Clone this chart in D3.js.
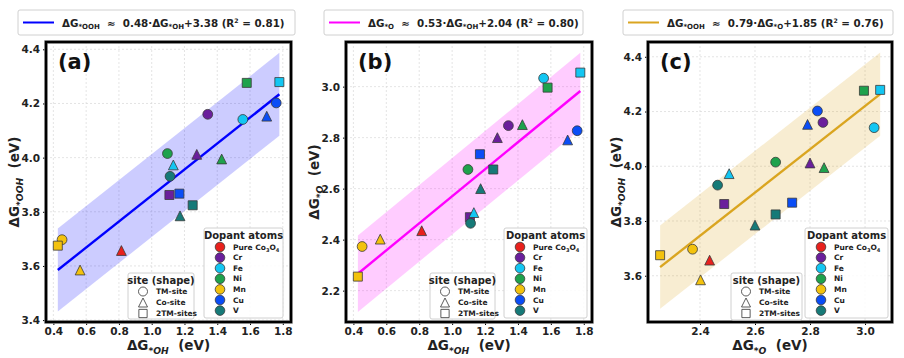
<!DOCTYPE html>
<html>
<head>
<meta charset="utf-8">
<script src="https://cdn.jsdelivr.net/npm/d3@7/dist/d3.min.js"></script>
<style>
html,body{margin:0;padding:0;background:#fff;}
svg{display:block;}
text{font-family:"DejaVu Sans",sans-serif;white-space:pre;}
</style>
</head>
<body>
<svg id="chart" width="904" height="358"></svg>
<script>
// ---------------- DATA ----------------
const dopants = ["Pure Co3O4", "Cr", "Fe", "Ni", "Mn", "Cu", "V"];
const dopantColors = ["#e8211d", "#6a1f9c", "#13c6f2", "#1ea24c", "#f3c20d", "#0a4df6", "#167a78"];
const sites = ["TM-site", "Co-site", "2TM-sites"];

const pointDopant = ["Pure Co3O4","Cr","Cr","Cr","Fe","Fe","Fe","Ni","Ni","Ni","Mn","Mn","Mn","Cu","Cu","Cu","V","V","V"];
const pointSite   = ["Co-site","TM-site","Co-site","2TM-sites","TM-site","Co-site","2TM-sites","TM-site","Co-site","2TM-sites","TM-site","Co-site","2TM-sites","TM-site","Co-site","2TM-sites","TM-site","Co-site","2TM-sites"];
const dG_OH  = [0.815, 1.342, 1.275, 1.108, 1.556, 1.132, 1.779, 1.096, 1.427, 1.580, 0.453, 0.563, 0.427, 1.760, 1.702, 1.169, 1.112, 1.173, 1.250];
const dG_O   = [2.435, 2.847, 2.800, 2.488, 3.033, 2.506, 3.055, 2.675, 2.851, 2.996, 2.373, 2.402, 2.255, 2.827, 2.791, 2.735, 2.464, 2.600, 2.675];
const dG_OOH = [3.657, 4.160, 4.012, 3.862, 4.141, 3.973, 4.279, 4.015, 3.995, 4.276, 3.697, 3.585, 3.675, 4.202, 4.153, 3.867, 3.931, 3.785, 3.824];

const panelLetters = ["(a)", "(b)", "(c)"];
const fitSlopes = [0.48, 0.53, 0.79];
const fitIntercepts = [3.38, 2.04, 1.85];
const fitR2 = ["0.81", "0.80", "0.76"];
const bandHalfWidth = [0.153, 0.15, 0.152];
const xTicksAB = [0.4, 0.6, 0.8, 1.0, 1.2, 1.4, 1.6, 1.8];
const xTicksC = [2.4, 2.6, 2.8, 3.0];
const yTicksA = [3.4, 3.6, 3.8, 4.0, 4.2, 4.4];
const yTicksB = [2.2, 2.4, 2.6, 2.8, 3.0];
const yTicksC = [3.6, 3.8, 4.0, 4.2, 4.4];

// ---------------- LAYOUT ----------------
const NB = "\u00a0";
const panels = [
  {x: dG_OH, y: dG_OOH, xSub: "*OH", ySub: "*OOH", xDom: [0.355, 1.85], yDom: [3.393, 4.427], xTicks: xTicksAB, yTicks: yTicksA,
   rect: [46, 42, 291, 322], color: "#0000ff", bandColor: "#0000ff",
   leg: {x0: 18, x1: 295}, dop: {x0: 204, y0: 228, x1: 283, y1: 318}, site: {x0: 128, y0: 273, x1: 194, y1: 319}, ylabX: 19,
   eq: [["ΔG",0],["*OOH",1],[NB+NB+"≈"+NB+NB+"0.48·ΔG",0],["*OH",1],["+3.38 (R",0],["2",2],[" = 0.81)",0]]},
  {x: dG_OH, y: dG_O, xSub: "*OH", ySub: "*O", xDom: [0.355, 1.85], yDom: [2.077, 3.175], xTicks: xTicksAB, yTicks: yTicksB,
   rect: [346, 42, 592, 322], color: "#ff00ff", bandColor: "#ff00ff",
   leg: {x0: 324, x1: 583}, dop: {x0: 504, y0: 228, x1: 587, y1: 318}, site: {x0: 430, y0: 273, x1: 495, y1: 319}, ylabX: 319,
   eq: [["ΔG",0],["*O",1],[NB+NB+"≈"+NB+NB+"0.53·ΔG",0],["*OH",1],["+2.04 (R",0],["2",2],[" = 0.80)",0]]},
  {x: dG_O, y: dG_OOH, xSub: "*O", ySub: "*OOH", xDom: [2.211, 3.098], yDom: [3.431, 4.454], xTicks: xTicksC, yTicks: yTicksC,
   rect: [648, 42, 892, 322], color: "#daa520", bandColor: "#daa520",
   leg: {x0: 623, x1: 893}, dop: {x0: 805, y0: 228, x1: 888, y1: 318}, site: {x0: 731, y0: 273, x1: 802, y1: 320}, ylabX: 621,
   eq: [["ΔG",0],["*OOH",1],[NB+NB+"≈"+NB+NB+"0.79·ΔG",0],["*O",1],["+1.85 (R",0],["2",2],[" = 0.76)",0]]}
];

const svg = d3.select("#chart");
const colorScale = d3.scaleOrdinal().domain(dopants).range(dopantColors);

function markerPath(site, s) {
  const h = s / 2;
  if (site === "TM-site") {
    return d3.arc()({innerRadius: 0, outerRadius: h, startAngle: 0, endAngle: 2 * Math.PI});
  } else if (site === "Co-site") {
    return `M0,${-h}L${h},${h}L${-h},${h}Z`;
  } else {
    const q = h * 0.92;
    return `M${-q},${-q}L${q},${-q}L${q},${q}L${-q},${q}Z`;
  }
}

function mathText(sel, parts, size, italicSub) {
  let shift = 0;
  parts.forEach(([t, kind]) => {
    const ts = sel.append("tspan").text(t);
    if (kind === 1) {
      ts.attr("font-size", size * 0.68).attr("dy", 0.28 * size - shift);
      if (italicSub) ts.attr("font-style", "italic");
      shift = 0.28 * size;
    } else if (kind === 2) {
      ts.attr("font-size", size * 0.6).attr("dy", -0.38 * size - shift);
      shift = -0.38 * size;
    } else {
      ts.attr("font-size", size).attr("dy", -shift);
      shift = 0;
    }
  });
}

panels.forEach((p, pi) => {
  const [L, T, R, B] = p.rect;
  const xs = d3.scaleLinear().domain(p.xDom).range([L, R]);
  const ys = d3.scaleLinear().domain(p.yDom).range([B, T]);
  const g = svg.append("g");

  // grid
  g.append("g").selectAll("line").data(p.xTicks).join("line")
    .attr("x1", d => xs(d)).attr("x2", d => xs(d)).attr("y1", T).attr("y2", B)
    .attr("stroke", "#d9d9d9").attr("stroke-width", 0.7).attr("stroke-dasharray", "2,2");
  g.append("g").selectAll("line").data(p.yTicks).join("line")
    .attr("y1", d => ys(d)).attr("y2", d => ys(d)).attr("x1", L).attr("x2", R)
    .attr("stroke", "#d9d9d9").attr("stroke-width", 0.7).attr("stroke-dasharray", "2,2");

  // axes (tick labels via d3 axes)
  const xAxis = d3.axisBottom(xs).tickValues(p.xTicks).tickFormat(d3.format(".1f")).tickSize(3).tickPadding(3);
  const yAxis = d3.axisLeft(ys).tickValues(p.yTicks).tickFormat(d3.format(".1f")).tickSize(3).tickPadding(3);
  const gx = g.append("g").attr("transform", `translate(0,${B})`).call(xAxis);
  const gy = g.append("g").attr("transform", `translate(${L},0)`).call(yAxis);
  [gx, gy].forEach(a => {
    a.select(".domain").remove();
    a.selectAll(".tick line").attr("stroke", "#000").attr("stroke-width", 1);
    a.selectAll(".tick text").attr("font-family", "DejaVu Sans").attr("font-weight", "bold")
      .attr("font-size", 10.5).attr("fill", "#222");
  });

  // confidence band + fit line
  const xmin = d3.min(p.x), xmax = d3.max(p.x);
  const m = fitSlopes[pi], c = fitIntercepts[pi], hw = bandHalfWidth[pi];
  const bandPts = [xmin, xmax];
  const area = d3.area().x(d => xs(d)).y0(d => ys(m * d + c - hw)).y1(d => ys(m * d + c + hw));
  g.append("path").datum(bandPts).attr("d", area).attr("fill", p.bandColor).attr("fill-opacity", 0.2);
  g.append("path").datum(bandPts)
    .attr("d", d3.line().x(d => xs(d)).y(d => ys(m * d + c)))
    .attr("stroke", p.color).attr("stroke-width", 2.4).attr("fill", "none");

  // points
  g.append("g").selectAll("path").data(d3.range(p.x.length)).join("path")
    .attr("transform", i => `translate(${xs(p.x[i])},${ys(p.y[i])})`)
    .attr("d", i => markerPath(pointSite[i], 9.8))
    .attr("fill", i => colorScale(pointDopant[i]))
    .attr("stroke", "#3a3a3a").attr("stroke-width", 0.8);

  // frame
  g.append("rect").attr("x", L).attr("y", T).attr("width", R - L).attr("height", B - T)
    .attr("fill", "none").attr("stroke", "#9a9a9a").attr("stroke-width", 3.6);
  g.append("rect").attr("x", L).attr("y", T).attr("width", R - L).attr("height", B - T)
    .attr("fill", "none").attr("stroke", "#000").attr("stroke-width", 2.4);

  // panel letter
  g.append("text").attr("x", L + 12).attr("y", T + 27).text(panelLetters[pi])
    .attr("font-family", "Liberation Sans, Arial, sans-serif").attr("font-weight", "bold").attr("font-size", 21).attr("fill", "#111");

  // axis labels
  const xl = g.append("text").attr("x", (L + R) / 2).attr("y", 350).attr("text-anchor", "middle")
    .attr("font-weight", "bold").attr("fill", "#222");
  mathText(xl, [["ΔG", 0], [p.xSub, 1], [NB + NB + "(eV)", 0]], 13.5, true);
  const yl = g.append("text").attr("transform", `translate(${p.ylabX},${(T + B) / 2}) rotate(-90)`).attr("text-anchor", "middle")
    .attr("font-weight", "bold").attr("fill", "#222");
  mathText(yl, [["ΔG", 0], [p.ySub, 1], [NB + NB + "(eV)", 0]], 13.5, true);

  // top legend
  const lg = g.append("g");
  lg.append("rect").attr("x", p.leg.x0).attr("y", 10).attr("width", p.leg.x1 - p.leg.x0).attr("height", 25)
    .attr("rx", 2).attr("fill", "#fff").attr("stroke", "#d0d0d0").attr("stroke-width", 1);
  lg.append("line").attr("x1", p.leg.x0 + 5).attr("x2", p.leg.x0 + 36).attr("y1", 22.5).attr("y2", 22.5)
    .attr("stroke", p.color).attr("stroke-width", 2);
  const lt = lg.append("text").attr("x", p.leg.x0 + 44).attr("y", 26.5).attr("font-weight", "bold").attr("fill", "#222");
  mathText(lt, p.eq, 10.3, false);

  // dopant legend
  const dg = g.append("g");
  const d0 = p.dop;
  dg.append("rect").attr("x", d0.x0).attr("y", d0.y0).attr("width", d0.x1 - d0.x0).attr("height", d0.y1 - d0.y0)
    .attr("rx", 2).attr("fill", "#fff").attr("fill-opacity", 0.85).attr("stroke", "#d0d0d0");
  dg.append("text").attr("x", (d0.x0 + d0.x1) / 2).attr("y", d0.y0 + 10.5).attr("text-anchor", "middle")
    .attr("font-weight", "bold").attr("font-size", 10).attr("fill", "#222").text("Dopant atoms");
  dopants.forEach((dn, k) => {
    const cy = d0.y0 + 19 + k * 10.6;
    dg.append("circle").attr("cx", d0.x0 + 16).attr("cy", cy).attr("r", 4.8)
      .attr("fill", colorScale(dn)).attr("stroke", "#3a3a3a").attr("stroke-width", 0.8);
    const t = dg.append("text").attr("x", d0.x0 + 29).attr("y", cy + 2.6)
      .attr("font-weight", "bold").attr("font-size", 7.5).attr("fill", "#222");
    if (dn === "Pure Co3O4") {
      mathText(t, [["Pure Co", 0], ["3", 1], ["O", 0], ["4", 1]], 7.5, false);
    } else t.text(dn);
  });

  // site legend
  const sg = g.append("g");
  const s0 = p.site;
  sg.append("rect").attr("x", s0.x0).attr("y", s0.y0).attr("width", s0.x1 - s0.x0).attr("height", s0.y1 - s0.y0)
    .attr("rx", 2).attr("fill", "#fff").attr("fill-opacity", 0.85).attr("stroke", "#d0d0d0");
  sg.append("text").attr("x", (s0.x0 + s0.x1) / 2).attr("y", s0.y0 + 11).attr("text-anchor", "middle")
    .attr("font-weight", "bold").attr("font-size", 10).attr("fill", "#222").text("site (shape)");
  sites.forEach((sn, k) => {
    const cy = s0.y0 + 18.5 + k * 11;
    sg.append("path").attr("transform", `translate(${s0.x0 + 15},${cy})`).attr("d", markerPath(sn, 9))
      .attr("fill", "#fff").attr("stroke", "#333").attr("stroke-width", 0.8);
    sg.append("text").attr("x", s0.x0 + 28).attr("y", cy + 2.6)
      .attr("font-weight", "bold").attr("font-size", 7.5).attr("fill", "#222").text(sn);
  });
});
</script>
</body>
</html>
